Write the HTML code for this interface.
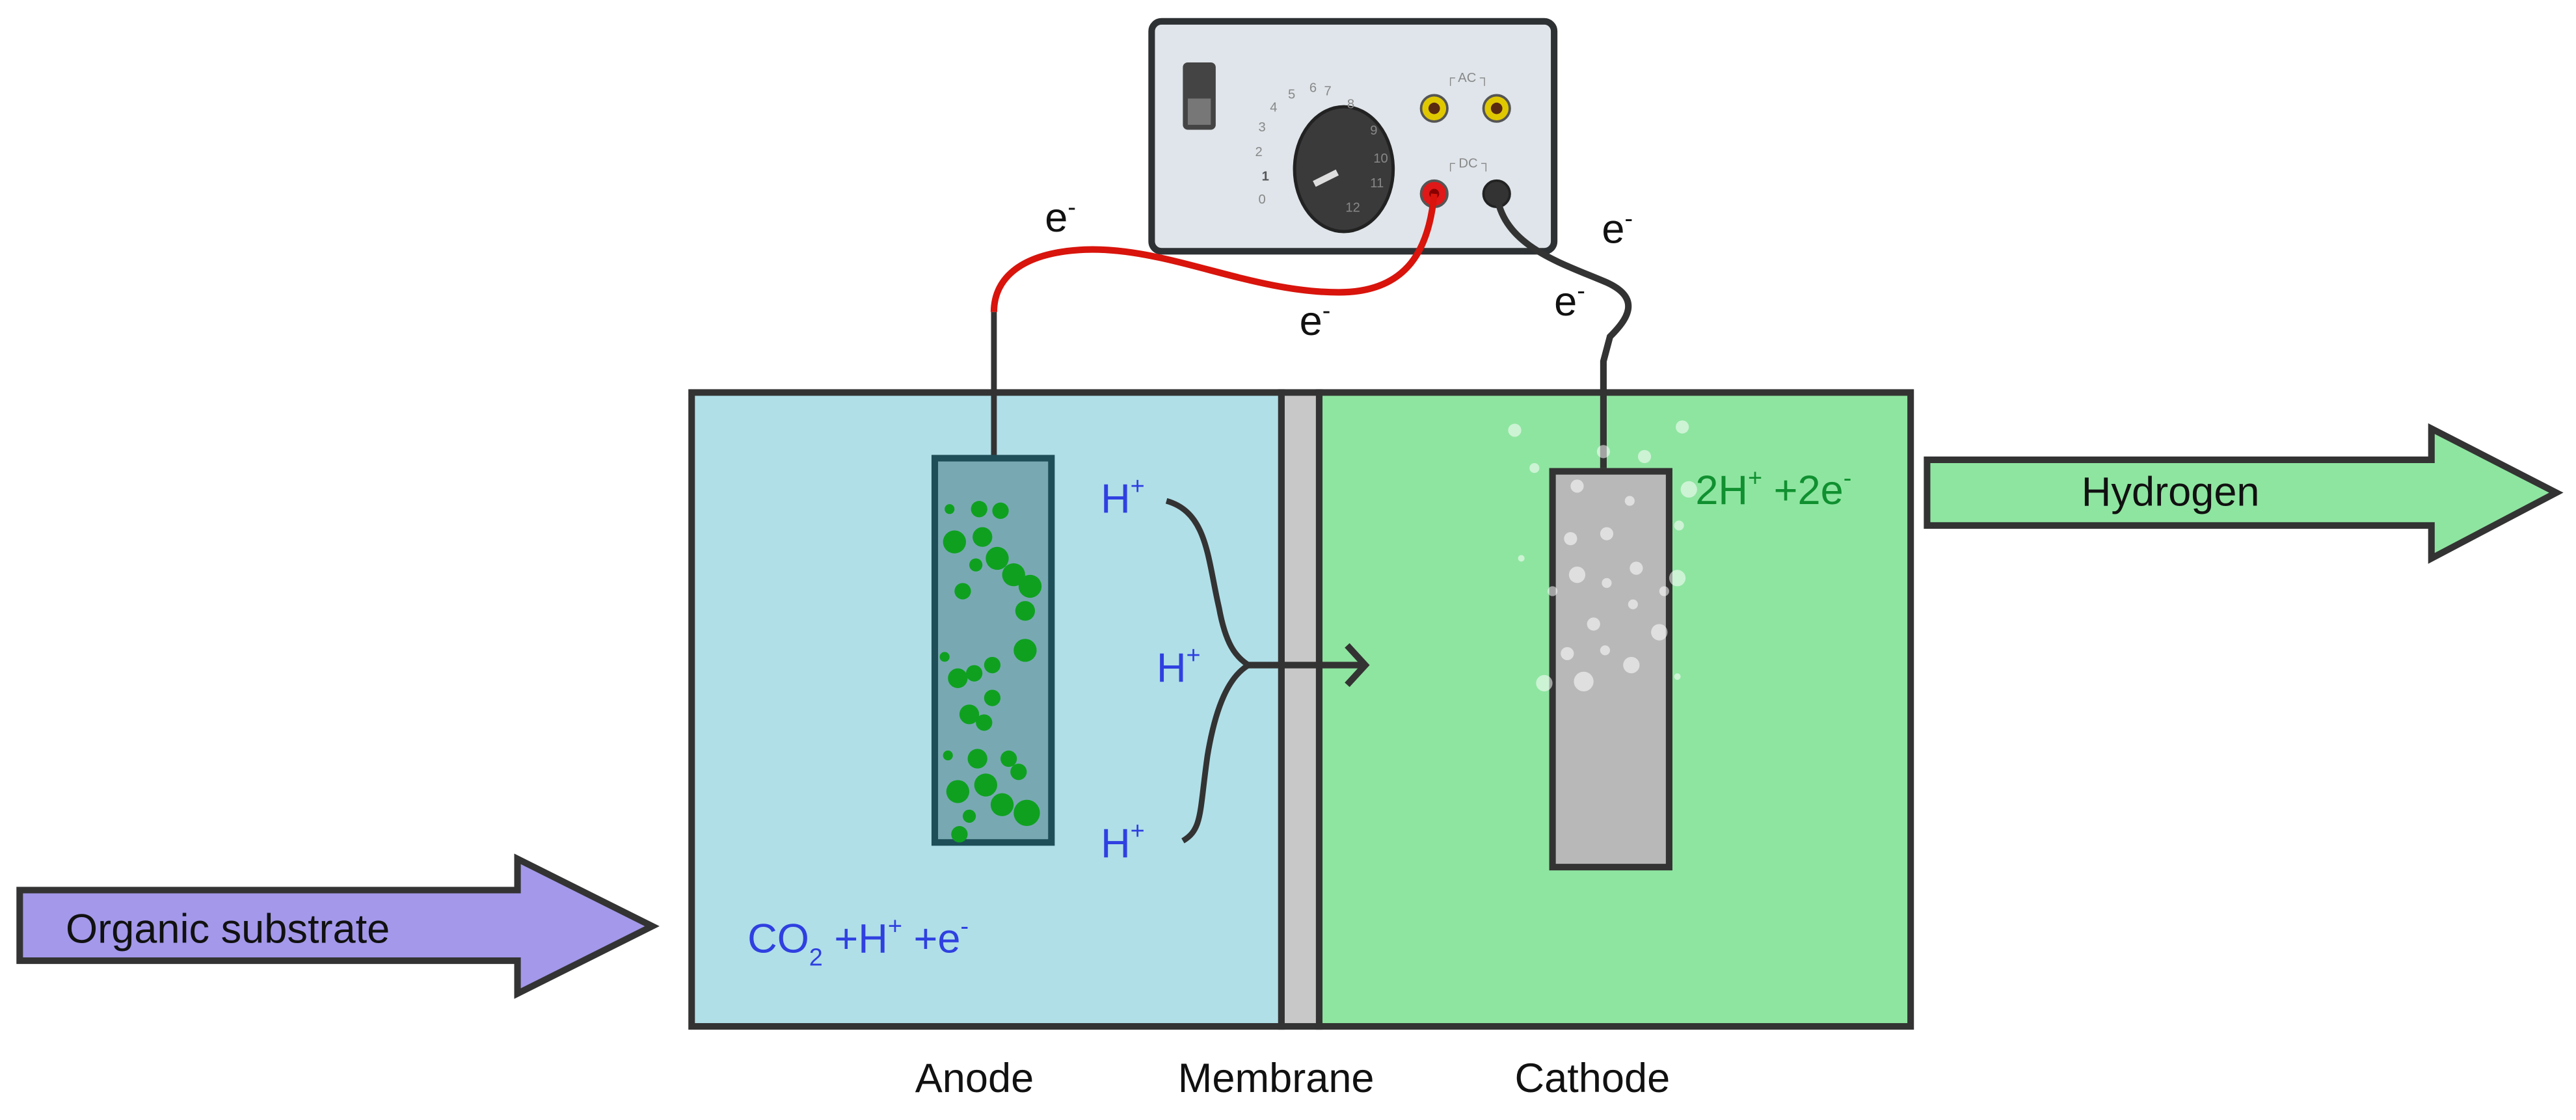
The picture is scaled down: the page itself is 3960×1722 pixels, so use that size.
<!DOCTYPE html>
<html><head><style>html,body{margin:0;padding:0;background:#fff}svg{display:block}</style></head>
<body>
<svg width="3960" height="1722" viewBox="0 0 1568 682" preserveAspectRatio="none" xmlns="http://www.w3.org/2000/svg" font-family="Liberation Sans, Arial, sans-serif">
<!-- tanks -->
<rect x="421" y="239" width="359" height="386" fill="#b0dfe8" stroke="#333" stroke-width="4"/>
<rect x="780" y="239" width="23" height="386" fill="#c8c8c8" stroke="#333" stroke-width="4"/>
<rect x="803" y="239" width="360" height="386" fill="#8ee5a0" stroke="#333" stroke-width="4"/>
<!-- power supply -->
<rect x="701" y="13" width="245" height="140" rx="6" fill="#dfe5ea" stroke="#2e3133" stroke-width="4"/>
<rect x="720" y="38" width="20" height="41" rx="3" fill="#444" />
<rect x="723" y="60" width="14" height="16" fill="#777"/>
<ellipse cx="818" cy="103" rx="30" ry="38" fill="#3a3a3a" stroke="#222" stroke-width="2"/>
<line x1="800" y1="112" x2="814" y2="105" stroke="#ddd" stroke-width="4"/>
<g font-size="8" fill="#888">
<text x="766" y="124">0</text><text x="768" y="110" font-weight="bold" fill="#555">1</text>
<text x="764" y="95">2</text><text x="766" y="80">3</text><text x="773" y="68">4</text><text x="784" y="60">5</text><text x="797" y="56">6</text><text x="806" y="58">7</text><text x="820" y="66">8</text><text x="834" y="82">9</text><text x="836" y="99">10</text><text x="834" y="114">11</text><text x="819" y="129">12</text>
<text x="880" y="50">┌ AC ┐</text><text x="880" y="102">┌ DC ┐</text></g>
<circle cx="873" cy="66" r="8" fill="#e0c800" stroke="#555" stroke-width="1.5"/><circle cx="873" cy="66" r="3.5" fill="#5a2a10"/>
<circle cx="911" cy="66" r="8" fill="#e0c800" stroke="#555" stroke-width="1.5"/><circle cx="911" cy="66" r="3.5" fill="#5a2a10"/>
<circle cx="873" cy="118" r="8" fill="#e01818" stroke="#555" stroke-width="1.5"/><circle cx="873" cy="118" r="3" fill="#800"/>
<circle cx="911" cy="118" r="8" fill="#333" stroke="#222" stroke-width="1.5"/>
<!-- wires -->
<path d="M873 118 C870 150 858 178 815 178 C760 178 710 150 660 152 C618 154 605 172 605 190" fill="none" stroke="#d8140c" stroke-width="4"/>
<path d="M605 190 L605 278" stroke="#333" stroke-width="3.5" fill="none"/>
<path d="M911 118 C915 150 950 160 978 172 C1000 182 990 195 980 205 L976 220 L976 285" stroke="#333" stroke-width="4" fill="none"/>
<!-- anode -->
<rect x="569" y="279" width="71" height="234" fill="#78a9b2" stroke="#1e4e58" stroke-width="4"/>
<g fill="#0fa020">
<circle cx="578" cy="310" r="3"/><circle cx="596" cy="310" r="5"/><circle cx="609" cy="311" r="5"/><circle cx="581" cy="330" r="7"/><circle cx="598" cy="327" r="6"/><circle cx="607" cy="340" r="7"/><circle cx="617" cy="350" r="7"/><circle cx="594" cy="344" r="4"/><circle cx="586" cy="360" r="5"/><circle cx="627" cy="357" r="7"/><circle cx="624" cy="372" r="6"/><circle cx="575" cy="400" r="3"/><circle cx="624" cy="396" r="7"/><circle cx="604" cy="405" r="5"/><circle cx="583" cy="413" r="6"/><circle cx="593" cy="410" r="5"/><circle cx="604" cy="425" r="5"/><circle cx="590" cy="435" r="6"/><circle cx="599" cy="440" r="5"/><circle cx="595" cy="462" r="6"/><circle cx="577" cy="460" r="3"/><circle cx="614" cy="462" r="5"/><circle cx="583" cy="482" r="7"/><circle cx="600" cy="478" r="7"/><circle cx="610" cy="490" r="7"/><circle cx="590" cy="497" r="4"/><circle cx="584" cy="508" r="5"/><circle cx="625" cy="495" r="8"/><circle cx="620" cy="470" r="5"/>
</g>
<!-- cathode -->
<rect x="945" y="287" width="71" height="241" fill="#b8b8b8" stroke="#333" stroke-width="4"/>
<g fill="#fff" opacity="0.55">
<circle cx="922" cy="262" r="4"/><circle cx="976" cy="275" r="4"/><circle cx="1024" cy="260" r="4"/><circle cx="1001" cy="278" r="4"/><circle cx="934" cy="285" r="3"/><circle cx="1028" cy="298" r="5"/><circle cx="960" cy="296" r="4"/><circle cx="992" cy="305" r="3"/><circle cx="956" cy="328" r="4"/><circle cx="1022" cy="320" r="3"/><circle cx="978" cy="325" r="4"/><circle cx="960" cy="350" r="5"/><circle cx="996" cy="346" r="4"/><circle cx="1021" cy="352" r="5"/><circle cx="978" cy="355" r="3"/><circle cx="926" cy="340" r="2"/><circle cx="945" cy="360" r="3"/><circle cx="1013" cy="360" r="3"/><circle cx="970" cy="380" r="4"/><circle cx="994" cy="368" r="3"/><circle cx="1010" cy="385" r="5"/><circle cx="977" cy="396" r="3"/><circle cx="954" cy="398" r="4"/><circle cx="993" cy="405" r="5"/><circle cx="964" cy="415" r="6"/><circle cx="940" cy="416" r="5"/><circle cx="1021" cy="412" r="2"/>
</g>
<!-- H+ brace & arrow -->
<path d="M710 305 C735 312 735 340 742 370 C746 392 752 400 760 405 C748 412 740 430 735 460 C730 495 732 505 720 512" fill="none" stroke="#333" stroke-width="3.5"/>
<path d="M760 405 L830 405 M820 393 L831 405 L820 417" fill="none" stroke="#333" stroke-width="4"/>
<!-- arrows -->
<path d="M1173 280 L1480 280 L1480 261 L1556 300 L1480 340 L1480 320 L1173 320 Z" fill="#8ee5a0" stroke="#333" stroke-width="4"/>
<path d="M12 542 L315 542 L315 523 L397 564 L315 605 L315 585 L12 585 Z" fill="#a398ea" stroke="#333" stroke-width="4"/>
<!-- texts -->
<g font-size="25" fill="#111">
<text x="1267" y="308">Hydrogen</text>
<text x="40" y="574">Organic substrate</text>
<text x="557" y="665">Anode</text><text x="717" y="665">Membrane</text><text x="922" y="665">Cathode</text>
<text x="636" y="141">e<tspan font-size="15" dy="-10">-</tspan></text>
<text x="791" y="204">e<tspan font-size="15" dy="-10">-</tspan></text>
<text x="975" y="148">e<tspan font-size="15" dy="-10">-</tspan></text>
<text x="946" y="192">e<tspan font-size="15" dy="-10">-</tspan></text>
</g>
<g font-size="25" fill="#2f40e0">
<text x="670" y="312">H<tspan font-size="15" dy="-11">+</tspan></text>
<text x="704" y="415">H<tspan font-size="15" dy="-11">+</tspan></text>
<text x="670" y="522">H<tspan font-size="15" dy="-11">+</tspan></text>
<text x="455" y="580">CO<tspan font-size="15" dy="8">2</tspan><tspan dy="-8"> +H</tspan><tspan font-size="15" dy="-11">+</tspan><tspan dy="11"> +e</tspan><tspan font-size="15" dy="-11">-</tspan></text>
</g>
<text x="1032" y="307" font-size="25" fill="#109030">2H<tspan font-size="15" dy="-11">+</tspan><tspan dy="11"> +2e</tspan><tspan font-size="15" dy="-11">-</tspan></text>
</svg>
</body></html>
